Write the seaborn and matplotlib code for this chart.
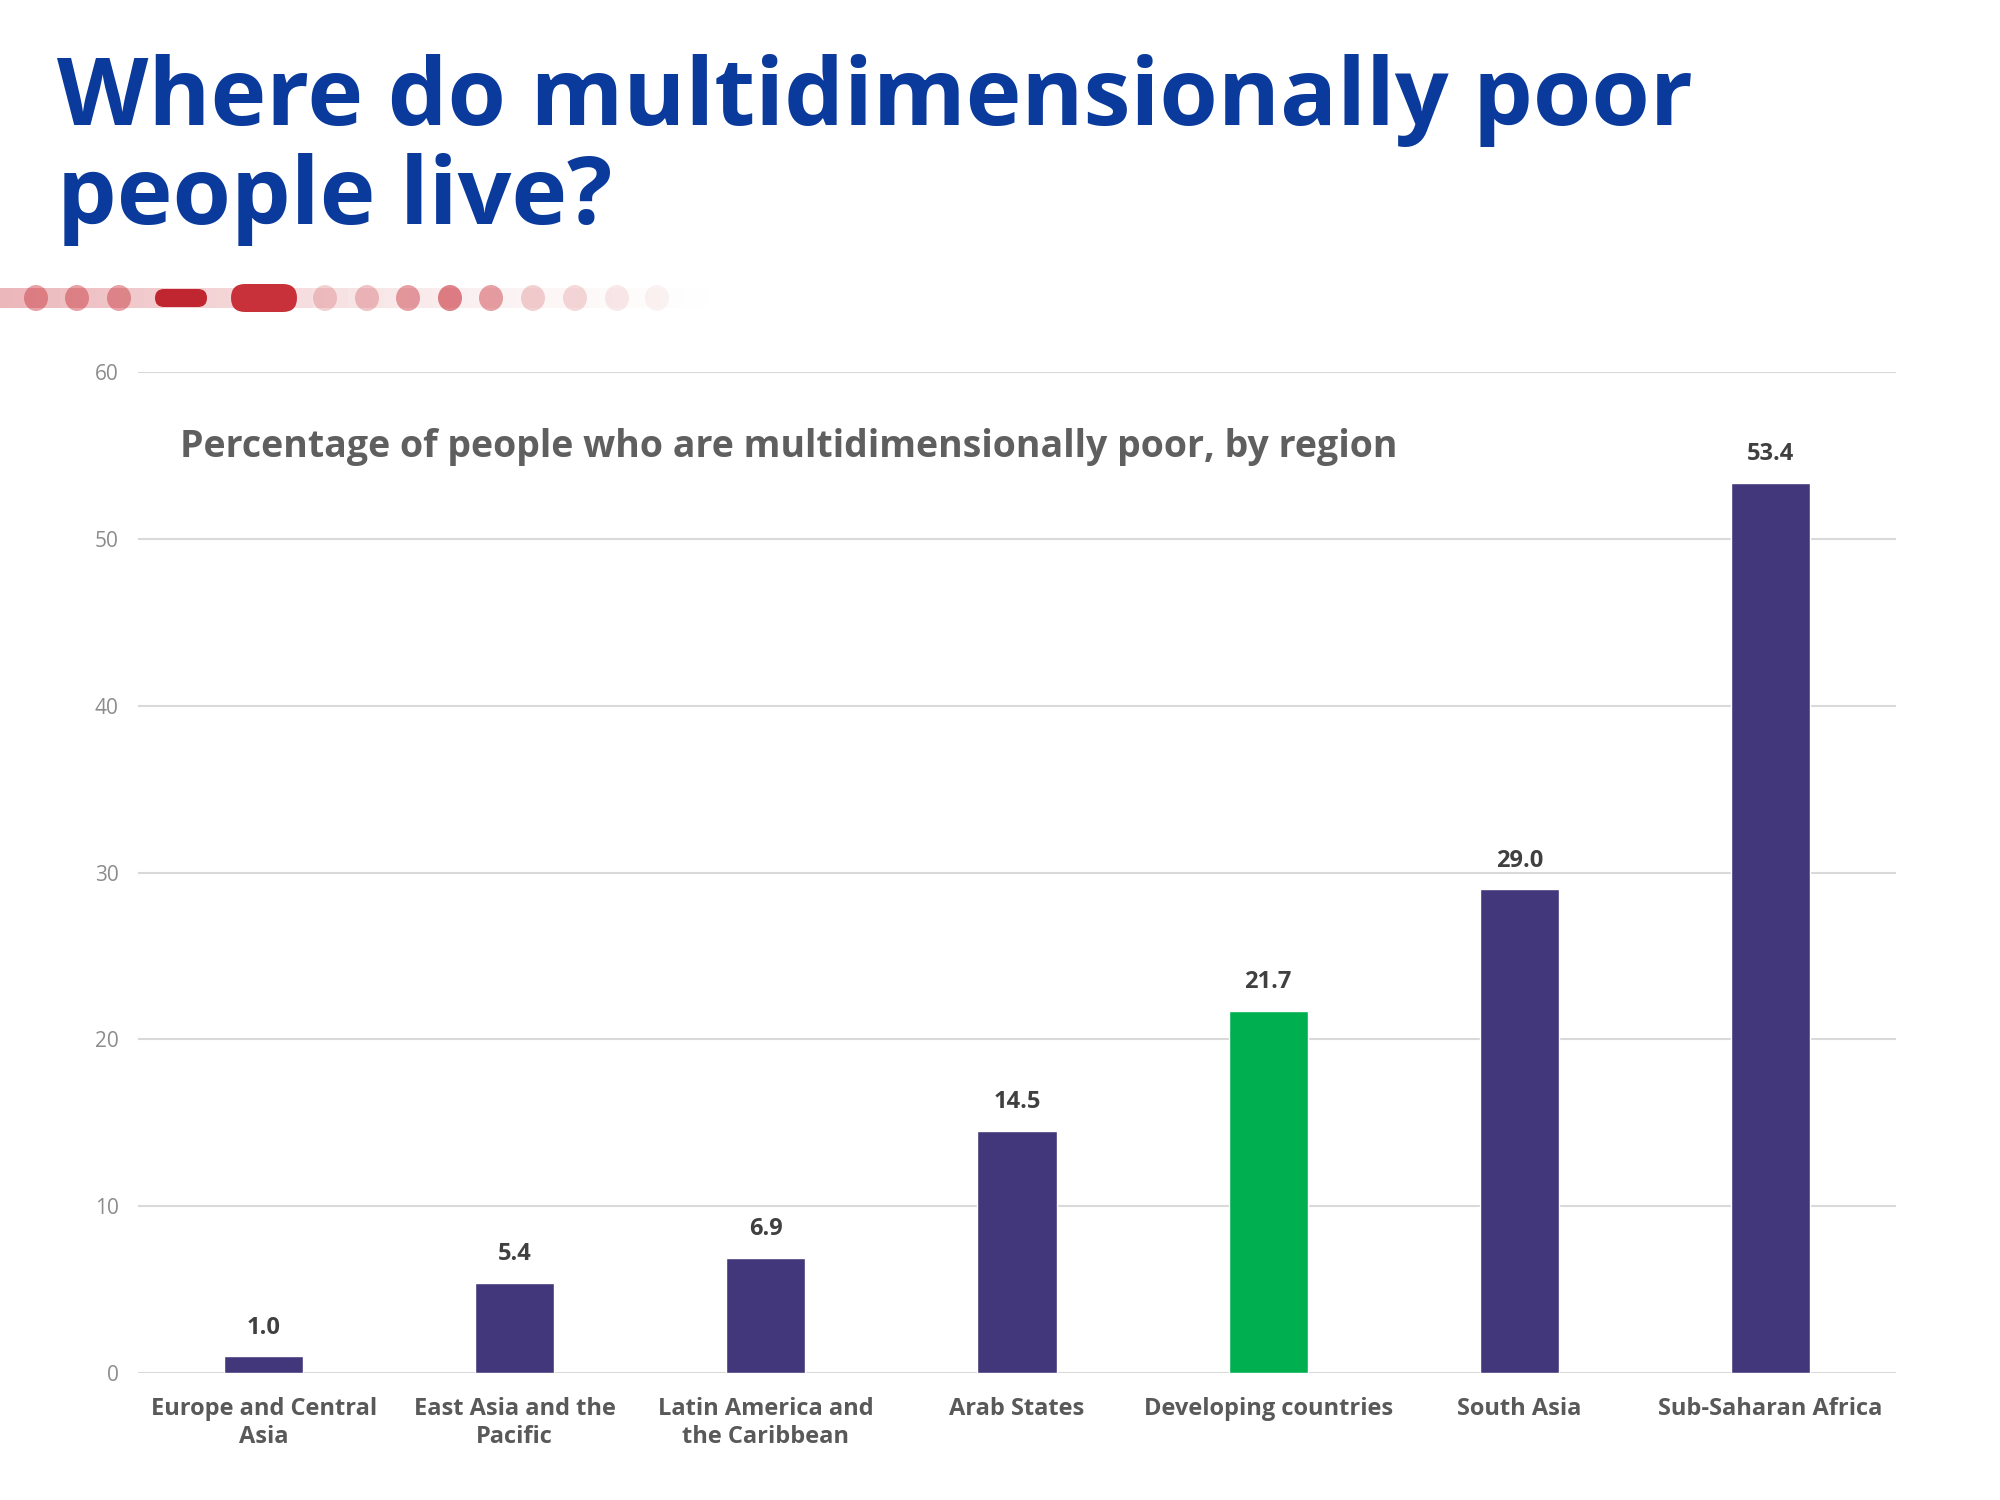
import numpy as np
import matplotlib.pyplot as plt
import seaborn as sns
from matplotlib.patches import Ellipse, FancyBboxPatch

regions = ["Europe and Central\nAsia", "East Asia and the\nPacific", "Latin America and\nthe Caribbean",
           "Arab States", "Developing countries", "South Asia", "Sub-Saharan Africa"]
poor_pct = [1.0, 5.4, 6.9, 14.5, 21.7, 29.0, 53.4]
bar_colors = ["#41377A", "#41377A", "#41377A", "#41377A", "#00B050", "#41377A", "#41377A"]

title = "Where do multidimensionally poor\npeople live?"
subtitle = "Percentage of people who are multidimensionally poor, by region"

sns.set_theme(style="white")
plt.rcParams['font.family'] = ['Open Sans', 'DejaVu Sans']

fig = plt.figure(figsize=(20, 15), dpi=100)
ax = fig.add_axes([0.069, 0.0847, 0.879, 0.667])

sns.barplot(x=regions, y=poor_pct, hue=regions, palette=bar_colors, width=0.315,
            legend=False, saturation=1, ax=ax, zorder=3)

for i, v in enumerate(poor_pct):
    ax.text(i, v + 1.0, f"{v:.1f}", ha="center", va="bottom", fontsize=17,
            fontweight="bold", color="#404040")

ax.set_ylim(0, 60)
ax.set_xlim(-0.5, len(regions) - 0.5)
ax.set_yticks(range(0, 61, 10))
ax.yaxis.grid(True, color="#D9D9D9", linewidth=1.5, zorder=0)
ax.set_axisbelow(True)
for s in ax.spines.values():
    s.set_visible(False)
ax.tick_params(axis="y", length=0, pad=14, labelsize=15, labelcolor="#8C8C8C")
ax.tick_params(axis="x", length=0, pad=17, labelsize=17, labelcolor="#595959")
for lab in ax.get_xticklabels():
    lab.set_fontweight("bold")
    lab.set_linespacing(1.25)
ax.set_xlabel("")
ax.set_ylabel("")

fig.text(0.0287, 0.964, title, ha="left", va="top", fontsize=68, fontweight="bold",
         color="#0A3A9C", linespacing=1.08)
fig.text(0.090, 0.702, subtitle, ha="left", va="center", fontsize=27,
         fontweight="bold", color="#5F5F5F")

# decorative dotted band under the title
deco = fig.add_axes([0, 0, 1, 1], zorder=-1)
deco.set_xlim(0, 2000)
deco.set_ylim(1500, 0)
deco.axis("off")
red = "#C8313A"
for k in range(60):
    x0 = k * 12
    deco.add_patch(plt.Rectangle((x0, 288), 12, 20, color=red, alpha=0.35 * (1 - k / 60) ** 1.5, lw=0))
dots = [(36, 0.45), (77, 0.45), (119, 0.45), (325, 0.22), (367, 0.28), (408, 0.45),
        (450, 0.6), (491, 0.45), (533, 0.22), (575, 0.18), (617, 0.1), (657, 0.06)]
for x, a in dots:
    deco.add_patch(Ellipse((x, 298), 24, 26, color=red, alpha=a, lw=0))
deco.add_patch(FancyBboxPatch((155, 289), 52, 18, boxstyle="round,pad=0,rounding_size=9",
                              color="#C0262F", lw=0))
deco.add_patch(FancyBboxPatch((231, 284), 66, 28, boxstyle="round,pad=0,rounding_size=14",
                              color="#C8313A", lw=0))

fig.savefig("out.png", dpi=100, facecolor="white")
